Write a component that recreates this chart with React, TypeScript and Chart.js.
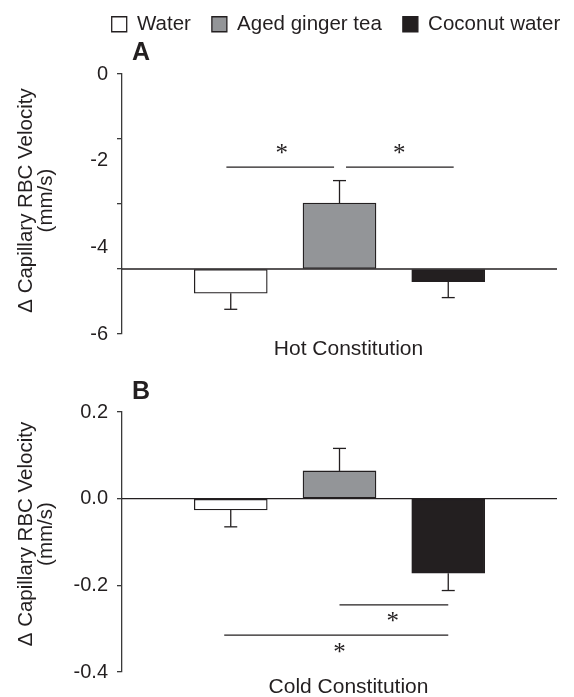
import React, { useEffect, useRef } from 'react';
import { Chart, registerables } from 'chart.js';

Chart.register(...registerables);

// ---------- data ----------
const groups = ['Water', 'Aged ginger tea', 'Coconut water'];
const groupX = [1, 2, 3];
const fillColors = ['#ffffff', '#939598', '#231f20'];

const panelAMeans = [-5.06, -2.98, -4.79];
const panelAErrEnds = [-5.43, -2.46, -5.16];
const panelABase = -4.5;
const panelATickMarks = [0, -1.5, -3, -4.5, -6];
const panelATickLabels = [0, -2, -4, -6];
const panelASigFrom = [0.96, 2.06];
const panelASigTo = [1.95, 3.05];
const panelASigY = [-2.15, -2.15];
const panelAStarX = [1.47, 2.55];
const panelAStarY = [-1.73, -1.73];

const panelBMeans = [-0.026, 0.064, -0.172];
const panelBErrEnds = [-0.065, 0.116, -0.212];
const panelBBase = 0;
const panelBTicks = [0.2, 0, -0.2, -0.4];
const panelBSigFrom = [2.0, 0.94];
const panelBSigTo = [3.0, 3.0];
const panelBSigY = [-0.245, -0.315];
const panelBStarX = [2.49, 2.0];
const panelBStarY = [-0.273, -0.345];

const yTitle = ['\u0394 Capillary RBC Velocity', '(mm/s)'];

// ---------- styles ----------
const ink = '#231f20';
const axisInk = '#3a3a3a';
const family = '"Liberation Sans", Arial, sans-serif';

function overlayPlugin(cfg: any) {
  return {
    id: 'overlay' + cfg.name,
    afterLayout(chart: any) {
      if (chart.titleBlock) chart.titleBlock.left += cfg.titleShift;
      if (chart.legend && cfg.legendShift) {
        chart.legend.left += cfg.legendShift;
        chart.legend.right += cfg.legendShift;
      }
      // nudge axis titles (pixel mapping is already configured)
      const xs = chart.scales.x;
      if (xs) xs.left += cfg.xTitleShift * 2;
      const yl = chart.scales.yl;
      if (yl) {
        yl.top += cfg.yTitleShift;
        yl.bottom += cfg.yTitleShift;
      }
    },
    afterDatasetsDraw(chart: any) {
      const { ctx, chartArea, scales } = chart;
      const xs = scales.x;
      const ys = scales.y;
      ctx.save();
      ctx.strokeStyle = ink;
      ctx.lineWidth = 1.3;
      const seg = (x1: number, y1: number, x2: number, y2: number) => {
        ctx.beginPath();
        ctx.moveTo(x1, y1);
        ctx.lineTo(x2, y2);
        ctx.stroke();
      };
      // baseline
      const by = ys.getPixelForValue(cfg.base);
      seg(chartArea.left, by, chartArea.right, by);
      // error bars
      cfg.means.forEach((m: number, i: number) => {
        const px = xs.getPixelForValue(groupX[i]);
        const y0 = ys.getPixelForValue(m);
        const y1 = ys.getPixelForValue(cfg.errEnds[i]);
        seg(px, y0, px, y1);
        seg(px - 6.5, y1, px + 6.5, y1);
      });
      // significance lines
      ctx.lineWidth = 1.2;
      cfg.sigFrom.forEach((f: number, i: number) => {
        const y = ys.getPixelForValue(cfg.sigY[i]);
        seg(xs.getPixelForValue(f), y, xs.getPixelForValue(cfg.sigTo[i]), y);
      });
      // stars
      ctx.fillStyle = ink;
      ctx.font = '25px "Liberation Serif", serif';
      ctx.textAlign = 'center';
      ctx.textBaseline = 'alphabetic';
      const mt = ctx.measureText('*');
      const off = (mt.actualBoundingBoxAscent - mt.actualBoundingBoxDescent) / 2;
      cfg.starX.forEach((sx: number, i: number) => {
        ctx.fillText('*', xs.getPixelForValue(sx), ys.getPixelForValue(cfg.starY[i]) + off);
      });
      ctx.restore();
    },
  };
}

function makeDatasets(means: number[], base: number) {
  return groups.map((g, i) => ({
    label: g,
    data: [{ x: groupX[i], y: means[i] }],
    backgroundColor: fillColors[i],
    borderColor: ink,
    borderWidth: 1.3,
    borderSkipped: false,
    base,
    barThickness: 73,
    grouped: false,
  }));
}

function xAxis(title: string, pt: number, pb: number) {
  return {
    type: 'linear',
    min: 0,
    max: 4,
    offset: false,
    grid: { display: false, drawTicks: false, offset: false },
    border: { display: false },
    ticks: { display: false },
    title: {
      display: true,
      text: title,
      color: ink,
      font: { family, size: 21, lineHeight: 1 },
      padding: { top: pt, bottom: pb },
    },
  };
}

function tickAxis(min: number, max: number, marks: number[]) {
  return {
    type: 'linear',
    position: 'left',
    min,
    max,
    weight: 0,
    afterBuildTicks: (s: any) => {
      s.ticks = marks.map((v) => ({ value: v }));
    },
    ticks: { display: false },
    grid: { display: true, drawOnChartArea: false, drawTicks: true, tickLength: 5, color: axisInk, lineWidth: 1.3 },
    border: { display: true, color: axisInk, width: 1.3 },
    afterFit: (s: any) => {
      s.width = 5;
    },
  };
}

function labelAxis(min: number, max: number, labels: number[], fmt: (v: number) => string) {
  return {
    type: 'linear',
    axis: 'y',
    position: 'left',
    min,
    max,
    weight: 1,
    afterBuildTicks: (s: any) => {
      s.ticks = labels.map((v) => ({ value: v }));
    },
    ticks: { color: ink, font: { family, size: 20 }, padding: 9, callback: (v: any) => fmt(Number(v)) },
    grid: { display: false, drawTicks: false },
    border: { display: false },
    title: {
      display: true,
      text: yTitle,
      color: ink,
      font: { family, size: 20.5, lineHeight: 1 },
      padding: { top: 15.75, bottom: 0 },
    },
    afterFit: (s: any) => {
      s.width = 117;
    },
  };
}

export default function App() {
  const refA = useRef<HTMLCanvasElement>(null);
  const refB = useRef<HTMLCanvasElement>(null);

  useEffect(() => {
    document.documentElement.style.margin = '0';
    document.body.style.margin = '0';
    document.body.style.overflow = 'hidden';

    const chartA = new Chart(refA.current as HTMLCanvasElement, {
      type: 'bar',
      data: { datasets: makeDatasets(panelAMeans, panelABase) as any },
      options: {
        animation: false,
        responsive: true,
        maintainAspectRatio: false,
        layout: { padding: { left: 0, right: 17, top: 0, bottom: 0 } },
        plugins: {
          legend: {
            display: true,
            position: 'top',
            fullSize: true,
            weight: 3000,
            align: 'center',
            labels: {
              boxWidth: 15,
              boxHeight: 15,
              padding: 21,
              color: ink,
              font: { family, size: 20.5 },
            },
          } as any,
          title: {
            display: true,
            text: 'A',
            position: 'top',
            align: 'start',
            fullSize: false,
            color: ink,
            font: { family, size: 25, weight: 'bold', lineHeight: 0.6 },
            padding: { top: 1, bottom: 13.5 },
          } as any,
          tooltip: { enabled: false },
        },
        scales: {
          x: xAxis('Hot Constitution', 4.5, 1.5) as any,
          y: tickAxis(-6, 0, panelATickMarks) as any,
          yl: labelAxis(-6, 0, panelATickLabels, (v) => String(v)) as any,
        },
      },
      plugins: [
        overlayPlugin({
          name: 'A',
          titleShift: 10,
          legendShift: 57.5,
          xTitleShift: 9,
          yTitleShift: -3.5,
          base: panelABase,
          means: panelAMeans,
          errEnds: panelAErrEnds,
          sigFrom: panelASigFrom,
          sigTo: panelASigTo,
          sigY: panelASigY,
          starX: panelAStarX,
          starY: panelAStarY,
        }),
      ],
    });

    const chartB = new Chart(refB.current as HTMLCanvasElement, {
      type: 'bar',
      data: { datasets: makeDatasets(panelBMeans, panelBBase) as any },
      options: {
        animation: false,
        responsive: true,
        maintainAspectRatio: false,
        layout: { padding: { left: 0, right: 17, top: 0, bottom: 0 } },
        plugins: {
          legend: { display: false },
          title: {
            display: true,
            text: 'B',
            position: 'top',
            align: 'start',
            fullSize: false,
            color: ink,
            font: { family, size: 25, weight: 'bold', lineHeight: 1 },
            padding: { top: 18.5, bottom: 7.5 },
          } as any,
          tooltip: { enabled: false },
        },
        scales: {
          x: xAxis('Cold Constitution', 5, 0) as any,
          y: tickAxis(-0.4, 0.2, panelBTicks) as any,
          yl: labelAxis(-0.4, 0.2, panelBTicks, (v) => v.toFixed(1)) as any,
        },
      },
      plugins: [
        overlayPlugin({
          name: 'B',
          titleShift: 10,
          legendShift: 0,
          xTitleShift: 9,
          yTitleShift: -8,
          base: panelBBase,
          means: panelBMeans,
          errEnds: panelBErrEnds,
          sigFrom: panelBSigFrom,
          sigTo: panelBSigTo,
          sigY: panelBSigY,
          starX: panelBStarX,
          starY: panelBStarY,
        }),
      ],
    });

    return () => {
      chartA.destroy();
      chartB.destroy();
    };
  }, []);

  return (
    <div style={{ position: 'relative', width: 574, height: 697, overflow: 'hidden', background: '#fff' }}>
      <div style={{ position: 'absolute', left: 0, top: -7, width: 574, height: 368 }}>
        <canvas ref={refA} />
      </div>
      <div style={{ position: 'absolute', left: 0, top: 361, width: 574, height: 337 }}>
        <canvas ref={refB} />
      </div>
    </div>
  );
}
